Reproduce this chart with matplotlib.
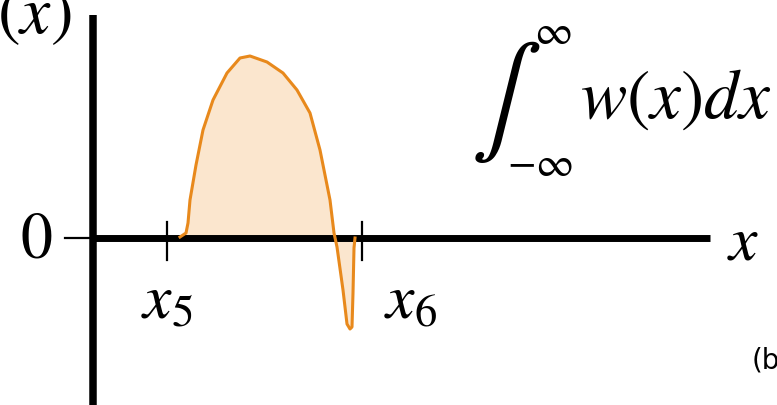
import numpy as np
import matplotlib.pyplot as plt

plt.rcParams['mathtext.fontset'] = 'stix'

# w(x) sketch: positive lobe between x5 and x6 with a short negative dip
x_vals = [0.87, 0.93, 0.95, 0.97, 1.03, 1.10, 1.20, 1.34, 1.47, 1.57, 1.74,
          1.90, 2.04, 2.17, 2.27, 2.37, 2.41, 2.44, 2.50, 2.54, 2.57, 2.59,
          2.60, 2.61, 2.62]
w_vals = [0.01, 0.05, 0.15, 0.38, 0.73, 1.08, 1.38, 1.65, 1.80, 1.82, 1.76,
          1.65, 1.48, 1.25, 0.88, 0.38, 0.05, -0.09, -0.52, -0.86, -0.91, -0.89,
          -0.55, -0.10, 0.0]
tick_pos = [0.74, 2.69]
tick_labels = ['$x_5$', '$x_6$']
label_pos = [0.48, 2.91]

line_col = '#E8891C'
fill_col = '#FBE6CE'

fig = plt.figure(figsize=(7.77, 4.05), dpi=100)
ax = fig.add_axes([0, 0, 1, 1])
ax.set_xlim(-0.93, 6.84)
ax.set_ylim(-1.67, 2.38)
ax.axis('off')

x = np.array(x_vals)
w = np.array(w_vals)
ax.fill_between(x, w, 0, color=fill_col, lw=0, zorder=1)
ax.plot(x, w, color=line_col, lw=2.2, zorder=3, solid_joinstyle='round')

# axes
ax.plot([-0.28, 0], [0, 0], color='black', lw=1.6, zorder=2)
ax.plot([-0.03, 6.17], [0, 0], color='black', lw=5.0, solid_capstyle='butt', zorder=2)
ax.plot([0, 0], [2.23, -1.8], color='black', lw=5.4, solid_capstyle='butt', zorder=2)

for p, lp, lab in zip(tick_pos, label_pos, tick_labels):
    ax.plot([p, p], [0.16, -0.22], color='black', lw=1.6, zorder=2)
    ax.text(lp, -0.62, lab, fontsize=46, ha='left', va='center')

ax.text(-0.41, -0.02, '$0$', fontsize=46, ha='right', va='center')
ax.text(6.34, -0.04, '$x$', fontsize=46, ha='left', va='center')
ax.text(-0.21, 2.05, '$w(x)$', fontsize=49, ha='right', va='baseline')

# integral of w(x)
ax.text(3.78, 1.36, r'$\int$', fontsize=76, ha='left', va='center')
ax.text(4.60, 2.06, r'$\infty$', fontsize=30, ha='center', va='center')
ax.text(4.47, 0.74, r'$-\infty$', fontsize=30, ha='center', va='center')
ax.text(4.87, 1.20, '$w(x)dx$', fontsize=50, ha='left', va='baseline')

ax.text(6.59, -1.22, '(b)', fontsize=20, ha='left', va='center',
        family='DejaVu Sans')

fig.savefig('out.png', dpi=100)
